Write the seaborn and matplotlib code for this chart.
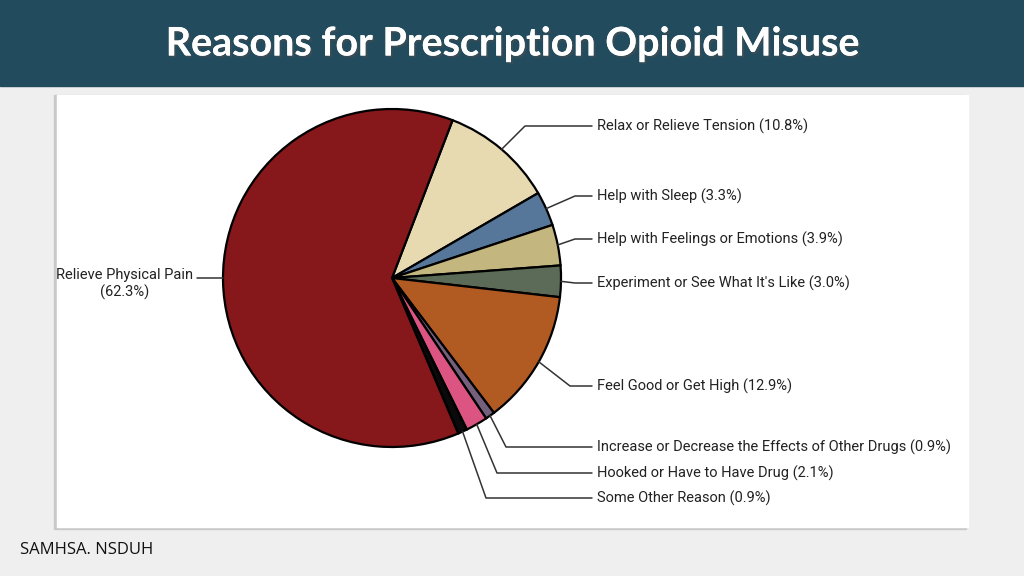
import matplotlib
matplotlib.use("Agg")
import matplotlib.pyplot as plt
import matplotlib.patheffects as pe
from matplotlib.patches import Rectangle
import numpy as np
import seaborn as sns

# data
reasons = [
    "Relax or Relieve Tension",
    "Help with Sleep",
    "Help with Feelings or Emotions",
    "Experiment or See What It's Like",
    "Feel Good or Get High",
    "Increase or Decrease the Effects of Other Drugs",
    "Hooked or Have to Have Drug",
    "Some Other Reason",
    "Relieve Physical Pain",
]
shares = [10.8, 3.3, 3.9, 3.0, 12.9, 0.9, 2.1, 0.9, 62.3]
slice_colors = ["#e8dab0", "#57779a", "#c4b67f", "#5b6b57", "#b15a22",
                "#75607c", "#dc5482", "#0a0a0a", "#86171b"]

# label layout (pixel coords, y from top): text y, elbow x
label_y = [126, 196, 239, 283, 386, 447, 473, 498]
elbow_x = [525, 575, 575, 575, 570, 506, 497, 486]

sns.set_theme(style="white")
plt.rcParams["font.family"] = ["Roboto", "DejaVu Sans"]

W, H = 1024, 576
def Y(y):
    return H - y

fig = plt.figure(figsize=(10.24, 5.76), dpi=100)
fig.patch.set_facecolor("#efefef")
ax = fig.add_axes([0, 0, 1, 1])

# header band + panel
ax.add_patch(Rectangle((0, Y(86)), W, 86, color="#224b5d", zorder=0))
ax.add_patch(Rectangle((54, Y(529)), 912, 434, color="#c9c9c9", zorder=0))
ax.add_patch(Rectangle((57, Y(527)), 911, 432, color="white", zorder=0))

cx, cy, r = 392, Y(278), 169
wedges, _ = ax.pie(shares, colors=slice_colors, startangle=69, counterclock=False,
                   center=(cx, cy), radius=r, frame=True,
                   wedgeprops=dict(edgecolor="black", linewidth=1.6))

for i, w in enumerate(wedges[:-1]):
    a = np.deg2rad((w.theta1 + w.theta2) / 2)
    sx, sy = cx + r * np.cos(a), cy + r * np.sin(a)
    ty = Y(label_y[i])
    ax.plot([sx, elbow_x[i], 592], [sy, ty, ty], color="#333333", lw=1.1, zorder=3)
    ax.text(597, ty, f"{reasons[i]} ({shares[i]:.1f}%)", fontsize=10.5,
            color="#222222", va="center", ha="left")

# big slice label on the left
w = wedges[-1]
a = np.deg2rad((w.theta1 + w.theta2) / 2)
sx = cx + r * np.cos(a)
ax.plot([sx, 197], [Y(278), Y(278)], color="#333333", lw=1.1, zorder=3)
ax.text(125, Y(284), f"{reasons[-1]}\n({shares[-1]:.1f}%)", fontsize=10.5,
        color="#222222", va="center", ha="center", multialignment="center",
        linespacing=1.25)

ax.text(512, Y(44), "Reasons for Prescription Opioid Misuse", fontsize=28.4,
        fontweight="bold", family=["Lato", "DejaVu Sans"], color="white",
        ha="center", va="center",
        path_effects=[pe.withSimplePatchShadow(offset=(1.5, -1.5), alpha=0.5),
                      pe.Normal()])
ax.text(20, Y(550), "SAMHSA. NSDUH", fontsize=12, family=["Open Sans", "DejaVu Sans"],
        color="#111111", ha="left", va="center")

ax.set_xlim(0, W)
ax.set_ylim(0, H)
ax.axis("off")

fig.savefig("out.png", dpi=100, facecolor=fig.get_facecolor())
